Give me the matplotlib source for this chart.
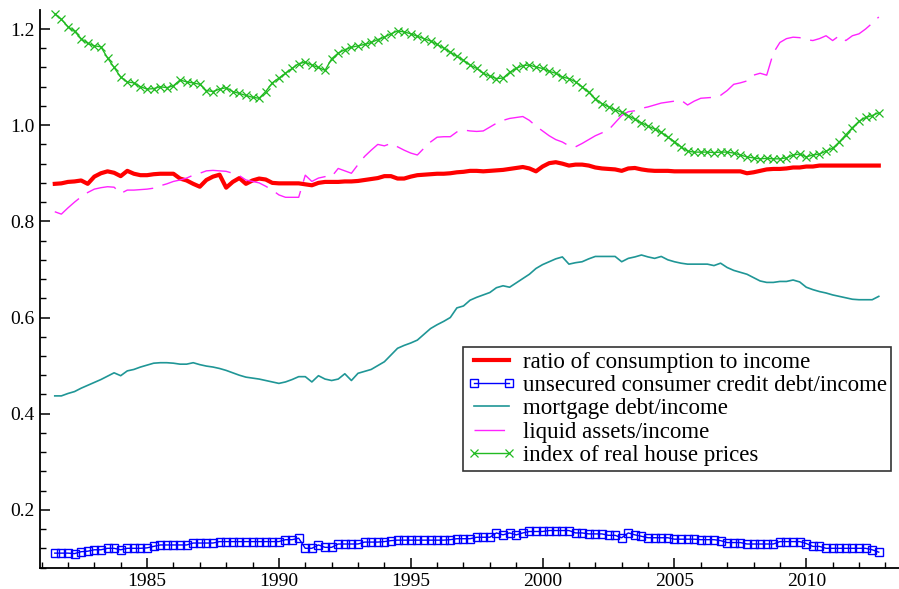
import numpy as np
import matplotlib
matplotlib.use("Agg")
from matplotlib import pyplot as plt
from matplotlib.ticker import MultipleLocator

# quarterly observations, 1981Q3 .. 2012Q4
quarters = np.arange(1981.5, 2012.76, 0.25)

consumption = [
    0.878, 0.879, 0.882, 0.883, 0.885, 0.878, 0.893, 0.900, 0.904, 0.901,
    0.894, 0.905, 0.899, 0.896, 0.896, 0.898, 0.899, 0.899, 0.899, 0.889,
    0.885, 0.878, 0.872, 0.886, 0.893, 0.897, 0.870, 0.882, 0.890, 0.878,
    0.885, 0.889, 0.887, 0.880, 0.879, 0.879, 0.879, 0.879, 0.877, 0.875,
    0.880, 0.882, 0.882, 0.882, 0.883, 0.883, 0.884, 0.886, 0.888, 0.890,
    0.894, 0.894, 0.889, 0.889, 0.893, 0.896, 0.897, 0.898, 0.899, 0.899,
    0.900, 0.902, 0.903, 0.905, 0.905, 0.904, 0.905, 0.906, 0.907, 0.909,
    0.911, 0.913, 0.910, 0.904, 0.914, 0.921, 0.923, 0.920, 0.916, 0.918,
    0.918, 0.916, 0.912, 0.910, 0.909, 0.908, 0.905, 0.910, 0.911, 0.908,
    0.906, 0.905, 0.905, 0.905, 0.904, 0.904, 0.904, 0.904, 0.904, 0.904,
    0.904, 0.904, 0.904, 0.904, 0.904, 0.900, 0.902, 0.905, 0.908, 0.909,
    0.909, 0.910, 0.912, 0.912, 0.914, 0.914, 0.916, 0.916, 0.916, 0.916,
    0.916, 0.916, 0.916, 0.916, 0.916, 0.916,
]

unsecured = [
    0.110, 0.110, 0.110, 0.109, 0.113, 0.114, 0.117, 0.117, 0.120, 0.120,
    0.117, 0.120, 0.120, 0.120, 0.121, 0.124, 0.127, 0.127, 0.127, 0.127,
    0.127, 0.131, 0.131, 0.131, 0.131, 0.134, 0.134, 0.134, 0.134, 0.134,
    0.134, 0.134, 0.134, 0.134, 0.134, 0.138, 0.138, 0.141, 0.120, 0.120,
    0.127, 0.122, 0.122, 0.129, 0.129, 0.129, 0.129, 0.133, 0.133, 0.133,
    0.134, 0.136, 0.137, 0.137, 0.137, 0.137, 0.137, 0.137, 0.137, 0.137,
    0.138, 0.140, 0.140, 0.140, 0.143, 0.143, 0.143, 0.152, 0.148, 0.152,
    0.148, 0.152, 0.155, 0.155, 0.155, 0.157, 0.157, 0.157, 0.157, 0.152,
    0.152, 0.150, 0.150, 0.150, 0.147, 0.147, 0.142, 0.152, 0.148, 0.145,
    0.142, 0.142, 0.142, 0.142, 0.139, 0.139, 0.139, 0.139, 0.138, 0.138,
    0.138, 0.136, 0.132, 0.132, 0.132, 0.129, 0.129, 0.129, 0.129, 0.129,
    0.134, 0.134, 0.134, 0.134, 0.130, 0.124, 0.124, 0.120, 0.120, 0.120,
    0.120, 0.120, 0.120, 0.120, 0.117, 0.112,
]

mortgage = [
    0.437, 0.437, 0.442, 0.446, 0.453, 0.459, 0.465, 0.471, 0.478, 0.485,
    0.479, 0.489, 0.492, 0.497, 0.501, 0.505, 0.506, 0.506, 0.505, 0.503,
    0.503, 0.506, 0.502, 0.499, 0.497, 0.494, 0.490, 0.485, 0.480, 0.476,
    0.474, 0.472, 0.469, 0.466, 0.463, 0.466, 0.471, 0.477, 0.477, 0.466,
    0.479, 0.472, 0.469, 0.472, 0.483, 0.469, 0.484, 0.488, 0.492, 0.500,
    0.508, 0.522, 0.536, 0.542, 0.547, 0.553, 0.565, 0.577, 0.585, 0.592,
    0.600, 0.620, 0.624, 0.636, 0.642, 0.647, 0.652, 0.662, 0.666, 0.663,
    0.672, 0.681, 0.690, 0.702, 0.710, 0.716, 0.722, 0.726, 0.711, 0.714,
    0.716, 0.722, 0.727, 0.727, 0.727, 0.727, 0.716, 0.723, 0.726, 0.730,
    0.726, 0.723, 0.727, 0.720, 0.716, 0.713, 0.711, 0.711, 0.711, 0.711,
    0.708, 0.713, 0.704, 0.698, 0.694, 0.690, 0.683, 0.676, 0.673, 0.673,
    0.675, 0.675, 0.678, 0.674, 0.663, 0.658, 0.654, 0.651, 0.647, 0.644,
    0.641, 0.638, 0.637, 0.637, 0.637, 0.644,
]

liquid = [
    0.820, 0.815, 0.828, 0.840, 0.851, 0.860, 0.867, 0.870, 0.872, 0.871,
    0.858, 0.865, 0.865, 0.866, 0.867, 0.869, 0.874, 0.878, 0.883, 0.886,
    0.890, 0.896, 0.900, 0.905, 0.906, 0.905, 0.904, 0.900, 0.895, 0.886,
    0.883, 0.880, 0.873, 0.865, 0.855, 0.850, 0.850, 0.850, 0.896, 0.883,
    0.890, 0.893, 0.893, 0.910, 0.905, 0.900, 0.918, 0.935, 0.948, 0.960,
    0.957, 0.962, 0.955, 0.948, 0.942, 0.938, 0.952, 0.965, 0.975, 0.976,
    0.976, 0.986, 0.990, 0.988, 0.987, 0.988, 0.996, 1.004, 1.010, 1.014,
    1.016, 1.018, 1.010, 0.998, 0.988, 0.978, 0.970, 0.965, 0.957, 0.955,
    0.962, 0.970, 0.978, 0.984, 0.990, 1.005, 1.020, 1.028, 1.030, 1.035,
    1.038, 1.042, 1.046, 1.048, 1.050, 1.052, 1.042, 1.050, 1.056, 1.057,
    1.058, 1.062, 1.072, 1.085, 1.088, 1.092, 1.104, 1.108, 1.104, 1.150,
    1.172, 1.180, 1.183, 1.182, 1.178, 1.176, 1.180, 1.186, 1.176, 1.186,
    1.176, 1.186, 1.190, 1.200, 1.212, 1.225,
]

house_prices = [
    1.232, 1.220, 1.205, 1.195, 1.180, 1.170, 1.165, 1.163, 1.140, 1.120,
    1.100, 1.090, 1.088, 1.080, 1.075, 1.076, 1.080, 1.078, 1.082, 1.094,
    1.090, 1.088, 1.085, 1.072, 1.070, 1.075, 1.078, 1.070, 1.066, 1.062,
    1.058, 1.056, 1.070, 1.088, 1.098, 1.108, 1.118, 1.128, 1.131, 1.125,
    1.120, 1.114, 1.138, 1.150, 1.157, 1.162, 1.165, 1.168, 1.172, 1.178,
    1.183, 1.190, 1.196, 1.194, 1.190, 1.185, 1.180, 1.175, 1.168, 1.160,
    1.152, 1.143, 1.135, 1.125, 1.118, 1.108, 1.102, 1.097, 1.098, 1.110,
    1.118, 1.124, 1.125, 1.121, 1.118, 1.112, 1.108, 1.100, 1.097, 1.090,
    1.080, 1.068, 1.055, 1.045, 1.038, 1.032, 1.027, 1.020, 1.012, 1.005,
    0.998, 0.992, 0.985, 0.975, 0.966, 0.955, 0.946, 0.944, 0.944, 0.944,
    0.943, 0.944, 0.944, 0.942, 0.938, 0.934, 0.932, 0.930, 0.931, 0.930,
    0.930, 0.932, 0.938, 0.940, 0.934, 0.938, 0.940, 0.946, 0.952, 0.965,
    0.980, 0.995, 1.008, 1.016, 1.020, 1.026,
]

labels = [
    "ratio of consumption to income",
    "unsecured consumer credit debt/income",
    "mortgage debt/income",
    "liquid assets/income",
    "index of real house prices",
]

plt.rcParams['font.family'] = ['Liberation Serif', 'DejaVu Serif']

fig = plt.figure(figsize=(8.99, 5.89), dpi=100)
ax = fig.add_axes([0.0445, 0.036, 0.955, 0.947])

ax.plot(quarters, consumption, color='#ff0000', lw=3.0, label=labels[0])
ax.plot(quarters, unsecured, color='#0000ff', lw=1.0, marker='s', ms=5.5,
        mfc='none', mec='#0000ff', mew=1.0, label=labels[1])
ax.plot(quarters, mortgage, color='#1f9696', lw=1.2, label=labels[2])
ax.plot(quarters, liquid, color='#ff22ff', lw=1.0, dashes=(22, 7),
        label=labels[3])
ax.plot(quarters, house_prices, color='#22bb22', lw=1.0, marker='x', ms=6,
        mew=0.9, label=labels[4])

ax.set_xlim(1980.94, 2013.5)
ax.set_ylim(0.0795, 1.2395)

ax.xaxis.set_major_locator(MultipleLocator(5))
ax.xaxis.set_minor_locator(MultipleLocator(1))
ax.yaxis.set_major_locator(MultipleLocator(0.2))
ax.yaxis.set_minor_locator(MultipleLocator(0.04))
ax.yaxis.set_major_formatter(plt.FuncFormatter(lambda v, p: f"{v:.1f}"))

ax.tick_params(which='major', direction='in', length=7, width=1.1,
               labelsize=14, pad=4)
ax.tick_params(which='minor', direction='in', length=4, width=1.0)

for side in ['top', 'right']:
    ax.spines[side].set_visible(False)
for side in ['left', 'bottom']:
    ax.spines[side].set_linewidth(1.3)

leg = ax.legend(loc='upper left', bbox_to_anchor=(463 / 899, 1 - 347 / 589),
                bbox_transform=fig.transFigure, borderaxespad=0,
                fancybox=False, frameon=True, edgecolor='black',
                fontsize=16.5, handlelength=2.1, numpoints=2,
                labelspacing=0.1, borderpad=0.2, handletextpad=0.3)
leg.get_frame().set_linewidth(1.2)

fig.savefig('out.png', dpi=100)
